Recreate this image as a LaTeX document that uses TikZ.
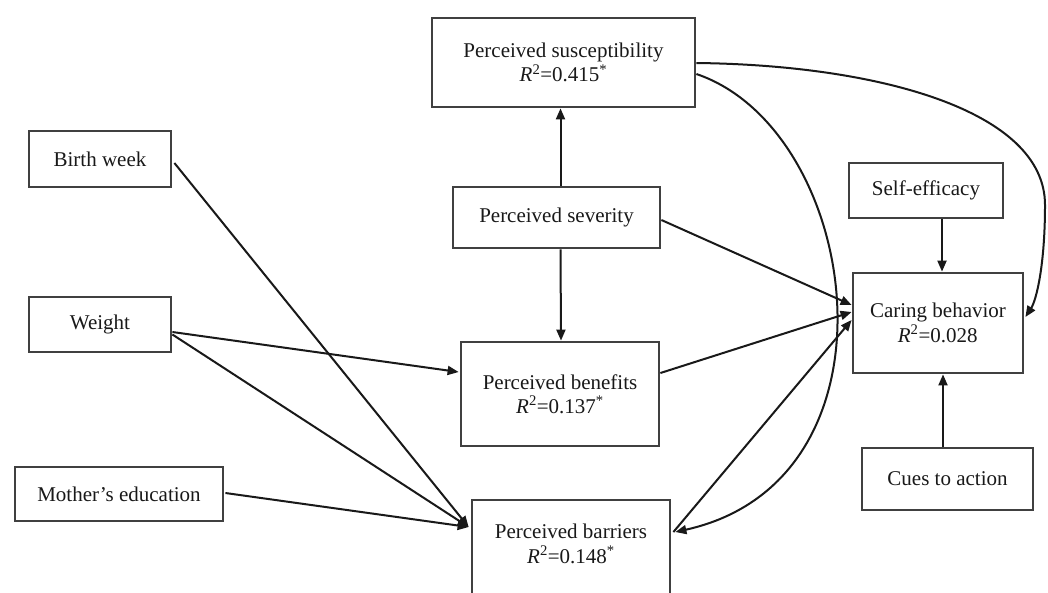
\documentclass[tikz,border=0pt]{standalone}
\usepackage{fontspec}
\setmainfont{Liberation Serif}
\usetikzlibrary{arrows.meta,calc}
\newcommand{\rsq}[2]{\textit{R}\textsuperscript{2}=#1\textsuperscript{#2}}
\begin{document}
\begin{tikzpicture}[x=1pt,y=-1pt,
  box/.style={draw=black!75,line width=2.8pt,fill=white,inner sep=0pt,align=center,
    font=\fontsize{21}{24.5}\selectfont,text=black!90},
  lbl/.style={inner sep=0pt,align=center,font=\fontsize{21}{24.5}\selectfont,text=black!90},
  arr/.style={-{Triangle[length=11pt,width=9pt]},line width=2pt,draw=black!90}]
\useasboundingbox (0,0) rectangle (1048,592);
\clip (0,0) rectangle (1048,592);
\fill[white] (0,0) rectangle (1048,592);

% boxes
\node[box,minimum width=263pt,minimum height=89pt] (susc) at (563.5,62.5) {Perceived susceptibility\\\rsq{0.415}{*}};
\node[box,minimum width=142pt,minimum height=56pt] (birth) at (100,159) {Birth week};
\node[box,minimum width=207pt,minimum height=61pt] (sev) at (556.5,217.5) {Perceived severity};
\node[box,minimum width=154pt,minimum height=55pt] (self) at (926,190.5) {Self-efficacy};
\node[box,minimum width=170pt,minimum height=100pt] (caring) at (938,323) {Caring behavior\\\rsq{0.028}{}};
\node[box,minimum width=142pt,minimum height=55pt] (weight) at (100,324.5) {Weight};
\node[box,minimum width=198pt,minimum height=104pt] (ben) at (560,394) {Perceived benefits\\\rsq{0.137}{*}};
\node[box,minimum width=208pt,minimum height=54pt] (mother) at (119,494) {Mother’s education};
\node[box,minimum width=198pt,minimum height=110pt] (barr) at (571,555) {};
\node[lbl] (barrtext) at (571,544) {Perceived barriers\\\rsq{0.148}{*}};
\node[box,minimum width=171pt,minimum height=62pt] (cues) at (947.5,479) {Cues to action};
\coordinate (bend) at (1045,205);

% connectors
\draw[arr] ($(sev.north)+(4,0)$) -- ($(susc.south)+(-3,0)$);
\draw[arr] ($(sev.south)+(4,0)$) -- ($(ben.north)+(1,0)$);
\draw[arr] ($(sev.east)+(0,2.5)$) -- ($(caring.west)+(0,-18)$);
\draw[arr] ($(ben.east)+(0,-21)$) -- ($(caring.west)+(0,-11)$);
\draw[arr] ($(barr.east)+(2,-23)$) -- ($(caring.west)+(0,-3)$);
\draw[arr] ($(susc.east)+(0,11.5)$) .. controls +(165,56) and +(235,-52) .. ($(barr.east)+(4,-23)$);
\draw[arr] ($(susc.east)+(0,0.5)$) .. controls +(180,2) and +(0,-95) .. (bend)
  .. controls +(0,60) and +(11,-17) .. ($(caring.east)+(1,-6)$);
\draw[arr] ($(self.south)+(16,0)$) -- ($(caring.north)+(4,0)$);
\draw[arr] ($(cues.north)+(-4.5,0)$) -- ($(caring.south)+(5,0)$);
\draw[arr] ($(birth.east)+(2,4)$) -- ($(barr.west)+(-2,-28)$);
\draw[arr] ($(weight.east)+(0,10)$) -- ($(barr.west)+(-2,-28)$);
\draw[arr] ($(weight.east)+(0,7.5)$) -- ($(ben.west)+(-1,-22)$);
\draw[arr] ($(mother.east)+(1,-1)$) -- ($(barr.west)+(-2,-28)$);
\end{tikzpicture}
\end{document}
